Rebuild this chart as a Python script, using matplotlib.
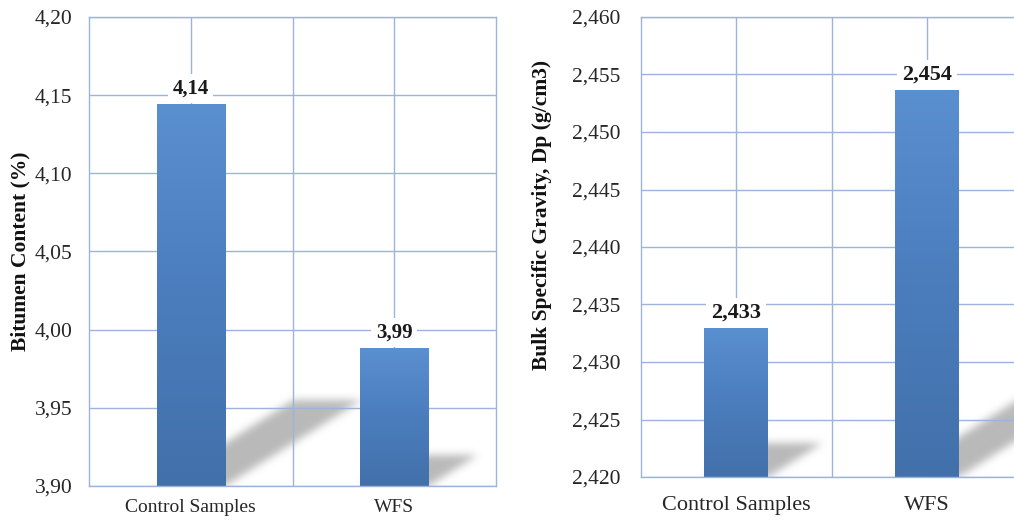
import numpy as np
import matplotlib
matplotlib.use("Agg")
import matplotlib.pyplot as plt
from matplotlib.path import Path
from matplotlib.colors import LinearSegmentedColormap
from matplotlib.ticker import FuncFormatter, MultipleLocator

# ---- data ----
categories = ["Control Samples", "WFS"]
bitumen_content = [4.144, 3.988]        # %
bulk_gravity = [2.4329, 2.4536]         # g/cm3

bitumen_ticks = (3.90, 4.20, 0.05)
gravity_ticks = (2.420, 2.460, 0.005)

# ---- style ----
plt.rcParams["font.family"] = ["Liberation Serif", "DejaVu Serif"]
GRID = "#9db3dc"
TEXT = "#262626"
bar_cmap = LinearSegmentedColormap.from_list("bar", ["#4270aa", "#4b7dbd", "#5a8fd0"])
BAR_W = 0.335


def comma(fmt):
    return FuncFormatter(lambda v, _: format(v, fmt).replace(".", ","))


def gaussian_blur(img, sigma):
    r = int(3 * sigma)
    k = np.exp(-0.5 * (np.arange(-r, r + 1) / sigma) ** 2)
    k /= k.sum()
    img = np.apply_along_axis(lambda m: np.convolve(m, k, mode="same"), 0, img)
    img = np.apply_along_axis(lambda m: np.convolve(m, k, mode="same"), 1, img)
    return img


def draw_shadows(ax, xs, values):
    """Soft cast shadows falling back and to the right of each bar."""
    fig = ax.figure
    fig.canvas.draw()
    bb = ax.get_window_extent()
    W, H = int(round(bb.width)), int(round(bb.height))
    px = bb.x0 + np.arange(W) + 0.5
    py = bb.y0 + np.arange(H) + 0.5
    PX, PY = np.meshgrid(px, py)
    pts = np.column_stack([PX.ravel(), PY.ravel()])
    mask = np.zeros(H * W)
    y_base = ax.get_ylim()[0]
    for x, v in zip(xs, values):
        (xl, y0), = ax.transData.transform([(x - BAR_W / 2, y_base)])
        (xr, yt), = ax.transData.transform([(x + BAR_W / 2, v)])
        h = yt - y0
        dx, dy = 0.36 * h, 0.226 * h
        poly = Path([(xl, y0), (xr, y0), (xr + dx, y0 + dy), (xl + dx, y0 + dy), (xl, y0)])
        mask = np.maximum(mask, poly.contains_points(pts).astype(float))
    mask = gaussian_blur(mask.reshape(H, W), 4.0)
    rgba = np.zeros((H, W, 4))
    rgba[..., :3] = 0.62
    rgba[..., 3] = 0.72 * mask
    x0, x1 = ax.get_xlim()
    y0, y1 = ax.get_ylim()
    ax.imshow(rgba, extent=[x0, x1, y0, y1], origin="lower", aspect="auto",
              zorder=0.2, interpolation="bilinear")
    ax.set_xlim(x0, x1)
    ax.set_ylim(y0, y1)


def panel(ax, values, ticks, tick_fmt, label_fmt, ylabel, ypad, xpad,
          xfont, yfont, valfont):
    lo, hi, step = ticks
    xs = np.arange(len(categories))
    ax.set_xlim(-0.5, len(categories) - 0.5)
    ax.set_ylim(lo, hi)
    ax.set_facecolor("white")
    ax.set_axisbelow(True)

    ax.yaxis.set_major_locator(MultipleLocator(step))
    ax.yaxis.set_major_formatter(comma(tick_fmt))
    ax.set_xticks(xs)
    ax.set_xticklabels(categories)
    ax.set_xticks([0.5], minor=True)
    ax.tick_params(axis="both", which="both", length=0, colors=TEXT)
    ax.tick_params(axis="y", pad=ypad, labelsize=yfont)
    ax.tick_params(axis="x", pad=xpad, labelsize=xfont)
    ax.grid(True, which="both", color=GRID, linewidth=1.0)
    for s in ax.spines.values():
        s.set_color(GRID)
        s.set_linewidth(1.0)

    bars = ax.bar(xs, values, width=BAR_W, bottom=lo - 1, color="none", zorder=2)
    grad = np.linspace(0, 1, 256).reshape(-1, 1)
    for b, v in zip(bars, values):
        im = ax.imshow(grad, cmap=bar_cmap, origin="lower", aspect="auto",
                       extent=[b.get_x(), b.get_x() + b.get_width(), lo, v], zorder=2)
        im.set_clip_path(b)
    ax.set_xlim(-0.5, len(categories) - 0.5)
    ax.set_ylim(lo, hi)

    for x, v in zip(xs, values):
        ax.annotate(format(v, label_fmt).replace(".", ","), (x, v),
                    xytext=(0, 11.5), textcoords="offset points",
                    ha="center", va="center", fontsize=valfont, fontweight="bold",
                    color="#1a1a1a", zorder=3,
                    bbox=dict(boxstyle="square,pad=0.22", fc="white", ec="none"))

    ax.set_ylabel(ylabel, fontsize=15.5, fontweight="bold", color="#111111")
    draw_shadows(ax, xs, values)


fig = plt.figure(figsize=(10.14, 5.2), dpi=100)
fig.patch.set_facecolor("white")

ax1 = fig.add_axes([89 / 1014, 1 - 486 / 520, (496 - 89) / 1014, (486 - 17) / 520])
ax2 = fig.add_axes([641 / 1014, 1 - 477 / 520, (1022 - 641) / 1014, (477 - 17) / 520])

panel(ax1, bitumen_content, bitumen_ticks, ".2f", ".2f",
      "Bitumen Content (%)", ypad=12, xpad=9, xfont=14, yfont=15.5, valfont=15)
panel(ax2, bulk_gravity, gravity_ticks, ".3f", ".3f",
      "Bulk Specific Gravity, Dp (g/cm3)", ypad=15, xpad=14, xfont=16,
      yfont=15.5, valfont=16)

ax1.yaxis.set_label_coords(-59 / 407, 0.5)
ax2.yaxis.set_label_coords(-89 / 381, 0.57)

fig.savefig("out.png", dpi=100, facecolor="white")
